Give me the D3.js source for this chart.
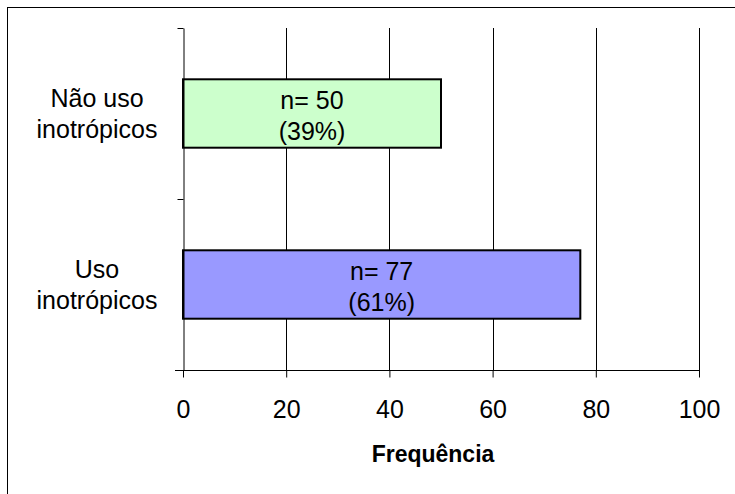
<!DOCTYPE html>
<html><head><meta charset="utf-8">
<script src="https://cdn.jsdelivr.net/npm/d3@7"></script>
<style>body{margin:0;background:#fff}svg{display:block}</style>
</head><body>
<script>
const categories = ["Não uso inotrópicos", "Uso inotrópicos"];
const catLines = [["Não uso", "inotrópicos"], ["Uso", "inotrópicos"]];
const values = [50, 77];
const labelLines = [["n= 50", "(39%)"], ["n= 77", "(61%)"]];
const colors = ["#CCFFCC", "#9999FF"];
const xTicks = [0, 20, 40, 60, 80, 100];

const W = 735, H = 494;
const svg = d3.select("body").append("svg").attr("width", W).attr("height", H);
const font = "'Liberation Sans', Arial, sans-serif";

svg.append("rect").attr("x", 7.5).attr("y", 7.5).attr("width", 740).attr("height", 500)
  .attr("fill", "#fff").attr("stroke", "#000").attr("stroke-width", 1);

const L = 183, R = 699, T = 28, B = 370;
const x = d3.scaleLinear().domain([0, 100]).range([L, R]);
const y = d3.scaleBand().domain(categories).range([T, B]).padding(0);

// gridlines
svg.append("g").selectAll("line").data(xTicks.slice(1)).join("line")
  .attr("x1", d => Math.round(x(d)) + 0.5).attr("x2", d => Math.round(x(d)) + 0.5)
  .attr("y1", T).attr("y2", B).attr("stroke", "#000").attr("stroke-width", 1);

// bars
const bh = y.bandwidth() * 0.4;
svg.append("g").selectAll("rect").data(categories).join("rect")
  .attr("x", x(0)).attr("y", d => y(d) + (y.bandwidth() - bh) / 2)
  .attr("width", (d, i) => x(values[i]) - x(0)).attr("height", bh)
  .attr("fill", (d, i) => colors[i]).attr("stroke", "#000").attr("stroke-width", 2);

// bar labels
categories.forEach((c, i) => {
  const cx = (x(0) + x(values[i])) / 2, cy = y(c) + y.bandwidth() / 2;
  const t = svg.append("text").attr("text-anchor", "middle").attr("font-family", font)
    .attr("font-size", 25).attr("fill", "#000");
  labelLines[i].forEach((ln, j) => t.append("tspan").attr("x", cx).attr("y", cy - 5 + j * 31).text(ln));
});

// x axis
const xAxis = d3.axisBottom(x).tickValues(xTicks).tickSize(7).tickSizeOuter(0).tickPadding(0);
const gx = svg.append("g").attr("transform", `translate(0,${B + 0.5})`).call(xAxis);
gx.select(".domain").remove();
gx.append("line").attr("x1", L - 8).attr("x2", R + 1).attr("y1", 0).attr("y2", 0).attr("stroke", "#000");
gx.selectAll(".tick line").attr("stroke", "#000");
gx.selectAll("text").attr("font-family", font).attr("font-size", 25).attr("fill", "#000")
  .attr("y", 47.5).attr("dy", null);

// y axis
const yAxis = d3.axisLeft(y).tickValues([]).tickSizeOuter(0);
const gy = svg.append("g").attr("transform", `translate(${L + 0.5},0)`).call(yAxis);
gy.select(".domain").attr("stroke", "#000");
const bounds = [T, T + y.step(), B];
gy.selectAll(".bt").data(bounds).join("line").attr("class", "bt")
  .attr("x1", -6).attr("x2", 0).attr("y1", d => d + 0.5).attr("y2", d => d + 0.5).attr("stroke", "#000");

// category labels
categories.forEach((c, i) => {
  const cy = y(c) + y.bandwidth() / 2;
  const t = svg.append("text").attr("text-anchor", "middle").attr("font-family", font)
    .attr("font-size", 25).attr("fill", "#000");
  catLines[i].forEach((ln, j) => t.append("tspan").attr("x", 97).attr("y", cy - 7 + j * 31).text(ln));
});

// x title
svg.append("text").attr("x", 433).attr("y", 462).attr("text-anchor", "middle")
  .attr("font-family", font).attr("font-size", 23).attr("font-weight", "bold").text("Frequência");
</script>
</body></html>
